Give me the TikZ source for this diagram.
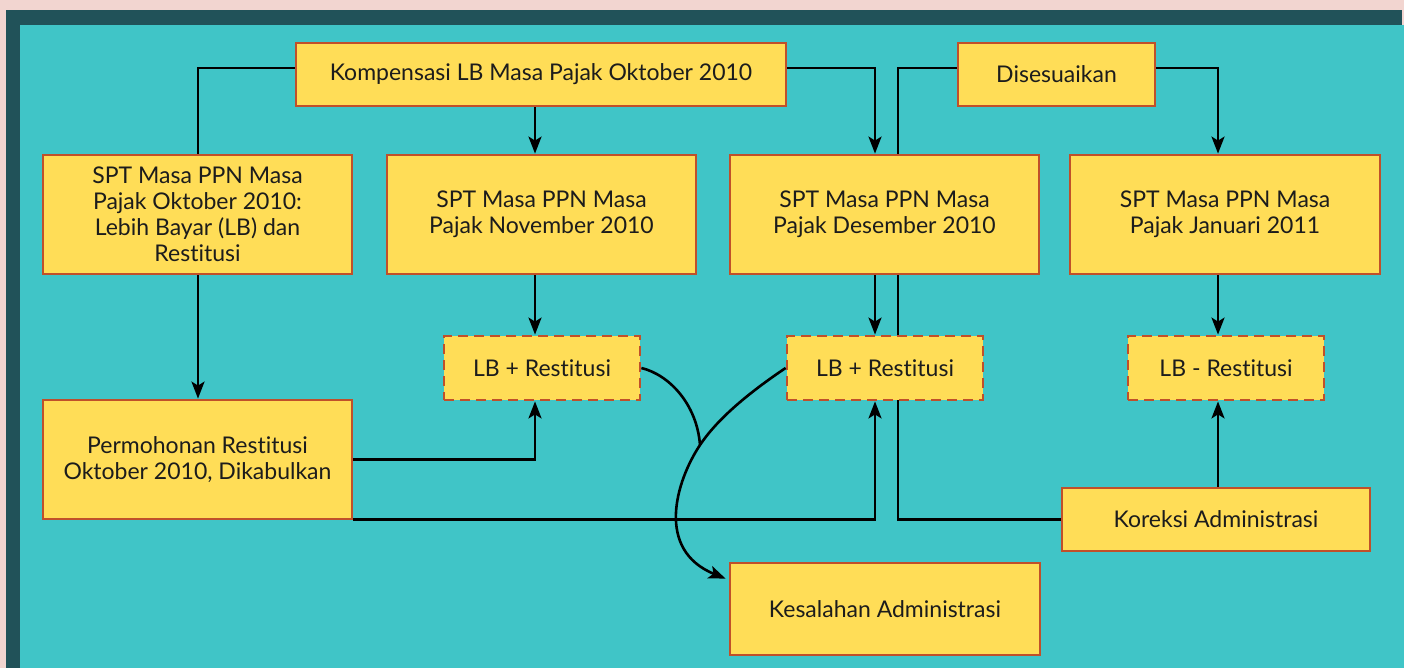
\documentclass[tikz,border=0pt]{standalone}
\usepackage{fontspec}
\setmainfont{Lato}[Ligatures={NoCommon,NoRare}]
\usetikzlibrary{arrows.meta}
\pgfdeclarelayer{bg}
\pgfsetlayers{bg,main}
\definecolor{pinkbg}{HTML}{F2D5D0}
\definecolor{framec}{HTML}{215259}
\definecolor{tealbg}{HTML}{40C5C7}
\definecolor{boxfill}{HTML}{FFDD57}
\definecolor{boxline}{HTML}{C0502A}
\definecolor{txt}{HTML}{1C1C1C}
\tikzset{
 box/.style={draw=boxline, fill=boxfill, line width=2.8pt, align=center, text=txt,
   font=\fontsize{23}{26}\selectfont, inner sep=0pt},
 dbox/.style={box, dash pattern=on 10pt off 6pt, minimum width=196pt, minimum height=64pt},
 bigbox/.style={box, minimum width=309pt, minimum height=119pt},
 conn/.style={line width=2.6pt, draw=black},
 arr/.style={conn, -{Stealth[length=17pt,width=13pt,inset=4pt]}},
}
\begin{document}
\begin{tikzpicture}[x=1pt,y=-1pt]
\useasboundingbox (0,0) rectangle (1404,668);
\begin{pgfonlayer}{bg}
\fill[pinkbg] (0,0) rectangle (1404,668);
\fill[framec] (6,10) rectangle (1402,668);
\fill[tealbg] (20,25) rectangle (1404,668);
\end{pgfonlayer}

\node[box, minimum width=490pt, minimum height=63pt] (komp) at (541,74.5) {Kompensasi LB Masa Pajak Oktober 2010};
\node[box, minimum width=197pt, minimum height=63pt] (dises) at (1056.5,74.5) {Disesuaikan};
\node[bigbox] (okt) at (197.5,214.5) {SPT Masa PPN Masa\\Pajak Oktober 2010:\\Lebih Bayar (LB) dan\\Restitusi};
\node[bigbox] (nov) at (541.5,214.5) {SPT Masa PPN Masa\\Pajak November 2010};
\node[bigbox] (des) at (884.5,214.5) {SPT Masa PPN Masa\\Pajak Desember 2010};
\node[bigbox, minimum width=310pt] (jan) at (1225,214.5) {SPT Masa PPN Masa\\Pajak Januari 2011};
\node[dbox] (lbnov) at (542,368) {LB + Restitusi};
\node[dbox] (lbdes) at (885,368) {LB + Restitusi};
\node[dbox] (lbjan) at (1226,368) {LB - Restitusi};
\node[bigbox] (perm) at (197.5,459.5) {Permohonan Restitusi\\Oktober 2010, Dikabulkan};
\node[box, minimum width=308pt, minimum height=63pt] (kor) at (1216,519.5) {Koreksi Administrasi};
\node[box, minimum width=310pt, minimum height=92pt] (kes) at (885,609) {Kesalahan Administrasi};

\coordinate (xa) at (535,0);
\coordinate (xb) at (898,0);
\coordinate (xc) at (875,0);
\coordinate (xd) at (1218,0);
\coordinate (xo) at (198,0);
\coordinate (J) at (700,445);
\coordinate (kesin) at ([xshift=-3pt,yshift=-17pt]kes.north west);

\begin{pgfonlayer}{bg}
\draw[conn] ([yshift=6.5pt]dises.west) -| (xb |- kor.west) -- (kor.west);
\end{pgfonlayer}

\draw[conn] ([yshift=6.5pt]komp.west) -| (xo |- okt.north);
\draw[arr] ([yshift=6.5pt]komp.east) -| (xc |- des.north);
\draw[arr] (komp.south -| xa) -- (nov.north -| xa);
\draw[arr] ([yshift=6.5pt]dises.east) -| (xd |- jan.north);
\draw[arr] (okt.south -| xo) -- (perm.north -| xo);
\draw[arr] (nov.south -| xa) -- (lbnov.north -| xa);
\draw[arr] (des.south -| xc) -- (lbdes.north -| xc);
\draw[arr] (jan.south -| xd) -- (lbjan.north -| xd);
\draw[arr] (kor.north -| xd) -- (lbjan.south -| xd);
\draw[arr] (perm.east) -| (lbnov.south -| xa);
\draw[arr] ([yshift=1pt]perm.south east) -| (lbdes.south -| xc);

\draw[conn] (lbnov.east) .. controls (670,375) and (697,405) .. (J);
\draw[arr] (lbdes.west) .. controls (750,392) and (718,418) .. (J)
  .. controls (676,481) and (655,550) .. (kesin);
\end{tikzpicture}
\end{document}
